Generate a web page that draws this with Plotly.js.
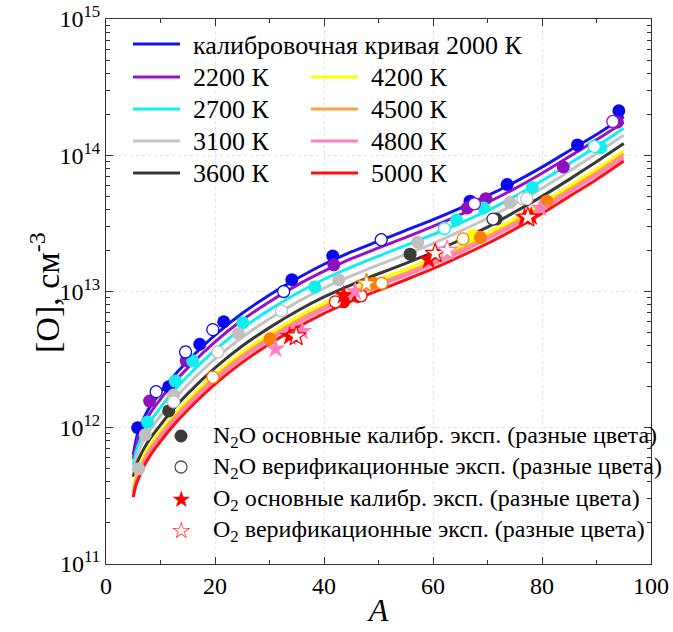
<!DOCTYPE html>
<html>
<head>
<meta charset="utf-8">
<script src="https://cdn.plot.ly/plotly-3.0.1.min.js"></script>
<style>html,body{margin:0;padding:0;background:#fff}#chart{width:673px;height:632px}</style>
</head>
<body>
<div id="chart"></div>
<script>
// ---- Calibration curves: A values and [O] (cm^-3) ----
const curveA = [5, 5.5, 6, 7, 8, 10, 12, 15, 20, 25, 30, 35, 40, 45, 50, 55, 60, 65, 70, 75, 80, 85, 90, 95];
const temps = [2000, 2200, 2700, 3100, 3600, 4200, 4500, 4800, 5000];
const curveLabels = ['калибровочная кривая 2000 К', '2200 К', '2700 К', '3100 К', '3600 К', '4200 К', '4500 К', '4800 К', '5000 К'];
const curve2000 = [6.31e11, 8.13e11, 9.55e11, 1.19e12, 1.41e12, 1.82e12, 2.29e12, 3.09e12, 4.79e12, 6.92e12, 9.44e12, 1.24e13, 1.585e13, 1.95e13, 2.34e13, 2.81e13, 3.37e13, 4.10e13, 5.05e13, 6.35e13, 8.18e13, 1.08e14, 1.42e14, 1.92e14];
const curve2200 = [5.89e11, 7.41e11, 8.71e11, 1.07e12, 1.26e12, 1.62e12, 2.04e12, 2.75e12, 4.27e12, 6.17e12, 8.41e12, 1.11e13, 1.41e13, 1.74e13, 2.09e13, 2.50e13, 3.01e13, 3.66e13, 4.50e13, 5.69e13, 7.38e13, 9.77e13, 1.30e14, 1.75e14];
const curve2700 = [5.25e11, 6.61e11, 7.59e11, 9.33e11, 1.10e12, 1.41e12, 1.78e12, 2.40e12, 3.72e12, 5.37e12, 7.33e12, 9.66e12, 1.23e13, 1.51e13, 1.82e13, 2.18e13, 2.62e13, 3.18e13, 3.92e13, 4.99e13, 6.50e13, 8.67e13, 1.16e14, 1.58e14];
const curve3100 = [4.79e11, 5.89e11, 6.76e11, 8.22e11, 9.55e11, 1.22e12, 1.53e12, 2.07e12, 3.20e12, 4.62e12, 6.31e12, 8.32e12, 1.06e13, 1.30e13, 1.57e13, 1.87e13, 2.25e13, 2.77e13, 3.45e13, 4.40e13, 5.73e13, 7.64e13, 1.03e14, 1.41e14];
const curve3600 = [4.37e11, 5.25e11, 5.89e11, 7.08e11, 8.22e11, 1.05e12, 1.32e12, 1.78e12, 2.75e12, 3.98e12, 5.43e12, 7.16e12, 9.12e12, 1.12e13, 1.35e13, 1.61e13, 1.94e13, 2.39e13, 2.97e13, 3.83e13, 4.99e13, 6.65e13, 8.97e13, 1.22e14];
const curve4200 = [3.63e11, 4.47e11, 5.13e11, 6.31e11, 7.41e11, 9.44e11, 1.19e12, 1.60e12, 2.48e12, 3.59e12, 4.90e12, 6.46e12, 8.22e12, 1.01e13, 1.22e13, 1.46e13, 1.75e13, 2.15e13, 2.68e13, 3.41e13, 4.45e13, 5.93e13, 7.91e13, 1.08e14];
const curve4500 = [3.39e11, 4.17e11, 4.79e11, 5.89e11, 6.92e11, 8.91e11, 1.12e12, 1.51e12, 2.34e12, 3.39e12, 4.62e12, 6.10e12, 7.76e12, 9.55e12, 1.15e13, 1.37e13, 1.65e13, 2.03e13, 2.53e13, 3.22e13, 4.20e13, 5.60e13, 7.46e13, 1.02e14];
const curve4800 = [3.24e11, 3.98e11, 4.57e11, 5.62e11, 6.61e11, 8.51e11, 1.07e12, 1.45e12, 2.24e12, 3.24e12, 4.42e12, 5.82e12, 7.41e12, 9.12e12, 1.10e13, 1.31e13, 1.58e13, 1.94e13, 2.42e13, 3.08e13, 4.01e13, 5.35e13, 7.13e13, 9.62e13];
const curve5000 = [3.09e11, 3.80e11, 4.27e11, 5.25e11, 6.17e11, 7.94e11, 1.0e12, 1.35e12, 2.09e12, 3.02e12, 4.12e12, 5.43e12, 6.92e12, 8.51e12, 1.02e13, 1.22e13, 1.47e13, 1.81e13, 2.25e13, 2.87e13, 3.74e13, 4.99e13, 6.65e13, 9.08e13];
const curves = [curve2000, curve2200, curve2700, curve3100, curve3600, curve4200, curve4500, curve4800, curve5000];

// ---- Experimental points (A, [O], temperature of the matching curve) ----
const n2oMainA = [5.8, 11.5, 17.2, 21.6, 34.1, 41.6, 66.8, 73.6, 86.5, 94.1,
                  8.0, 14.7, 41.8, 66.3, 69.7, 83.9, 93.8,
                  7.6, 12.7, 15.9, 25.1, 38.3, 64.3, 69.3, 78.2, 90.8,
                  6.0, 7.2, 12.4, 24.3, 42.7, 57.2, 74.1,
                  11.5, 55.8, 71.6,
                  67.3,
                  30.1, 49.1, 68.7, 80.9,
                  43.6, 46.2];
const n2oMainO = [1.0e12, 2.0e12, 4.1e12, 6.0e12, 1.22e13, 1.82e13, 4.6e13, 6.1e13, 1.19e14, 2.12e14,
                  1.57e12, 3.1e12, 1.57e13, 4.1e13, 4.8e13, 8.2e13, 1.75e14,
                  1.1e12, 2.2e12, 3.1e12, 5.9e12, 1.08e13, 3.35e13, 4.1e13, 5.8e13, 1.14e14,
                  5.0e11, 8.9e11, 1.74e12, 4.9e12, 1.22e13, 2.3e13, 4.5e13,
                  1.33e12, 1.88e13, 3.4e13,
                  2.6e13,
                  4.5e12, 1.15e13, 2.5e13, 4.6e13,
                  8.4e12, 9.2e12];
const n2oMainT = [2000, 2000, 2000, 2000, 2000, 2000, 2000, 2000, 2000, 2000,
                  2200, 2200, 2200, 2200, 2200, 2200, 2200,
                  2700, 2700, 2700, 2700, 2700, 2700, 2700, 2700, 2700,
                  3100, 3100, 3100, 3100, 3100, 3100, 3100,
                  3600, 3600, 3600,
                  4200,
                  4500, 4500, 4500, 4500,
                  5000, 5000];

const n2oVerA = [9.2, 14.6, 19.6, 32.6, 50.5, 93.0, 67.6, 89.6, 62.1, 12.4, 20.5, 32.2, 76.5, 77.2, 71.0, 19.6, 50.6, 65.5, 42.1, 46.8];
const n2oVerO = [1.84e12, 3.6e12, 5.25e12, 1.0e13, 2.4e13, 1.77e14, 4.4e13, 1.16e14, 2.9e13, 1.55e12, 3.6e12, 7.2e12, 4.8e13, 4.8e13, 3.4e13, 2.35e12, 1.15e13, 2.43e13, 8.4e12, 9.3e12];
const n2oVerT = [2000, 2000, 2000, 2000, 2000, 2200, 2200, 2700, 2700, 3100, 3100, 3100, 3100, 3100, 3600, 4500, 4500, 4500, 5000, 5000];

const o2MainA = [33.7, 43.6, 59.2, 76.8, 78.0, 31.1, 36.0, 45.7, 79.7];
const o2MainO = [4.7e12, 9.4e12, 1.7e13, 3.5e13, 3.55e13, 3.8e12, 5.1e12, 1.0e13, 4.1e13];
const o2MainT = [5000, 5000, 5000, 5000, 5000, 4800, 4800, 4800, 4800];

const o2VerA = [34.9, 60.4, 77.4, 62.6, 47.8];
const o2VerO = [4.7e12, 1.9e13, 3.5e13, 2.0e13, 1.14e13];
const o2VerT = [5000, 5000, 5000, 4800, 4500];

const markerLabels = ['N<sub>2</sub>O основные калибр. эксп. (разные цвета)',
                      'N<sub>2</sub>O верификационные эксп. (разные цвета)',
                      'O<sub>2</sub> основные калибр. эксп. (разные цвета)',
                      'O<sub>2</sub> верификационные эксп. (разные цвета)'];

const yTickVals = [1e11, 1e12, 1e13, 1e14, 1e15];
const yTickText = ['10<sup>11</sup>', '10<sup>12</sup>', '10<sup>13</sup>', '10<sup>14</sup>', '10<sup>15</sup>'];
const yMinorVals = [2e11, 3e11, 4e11, 5e11, 6e11, 7e11, 8e11, 9e11,
                    2e12, 3e12, 4e12, 5e12, 6e12, 7e12, 8e12, 9e12,
                    2e13, 3e13, 4e13, 5e13, 6e13, 7e13, 8e13, 9e13,
                    2e14, 3e14, 4e14, 5e14, 6e14, 7e14, 8e14, 9e14];
const yTitle = '[O], см<sup>-3</sup>';

// ---- styles ----
const lineColor = {2000: '#1414f0', 2200: '#9a10c8', 2700: '#10f0f0', 3100: '#c4c4c4', 3600: '#383838',
                   4200: '#ffff00', 4500: '#ffa04a', 4800: '#ff80c0', 5000: '#ff1010'};
const dotColor = {2000: '#0808f0', 2200: '#9010c0', 2700: '#10eef0', 3100: '#c0c0c0', 3600: '#3a3a3a',
                  4200: '#ffff10', 4500: '#ff8000', 4800: '#ff80c0', 5000: '#ff0000'};
const SERIF = '"Liberation Serif", "Times New Roman", serif';

// plot frame in pixels (for placing the hand-made legends)
const M = {l: 106, r: 22, t: 19, b: 68};
const PW = 673 - M.l - M.r, PH = 632 - M.t - M.b;
const px = X => (X - M.l) / PW;
const py = Y => (632 - M.b - Y) / PH;

const traces = [];
curves.forEach((c, i) => {
  traces.push({
    x: curveA, y: c, type: 'scatter', mode: 'lines', name: curveLabels[i], showlegend: false,
    line: {color: lineColor[temps[i]], width: 3, shape: 'spline', smoothing: 0.8}, hoverinfo: 'skip'
  });
});
traces.push({x: n2oMainA, y: n2oMainO, type: 'scatter', mode: 'markers', showlegend: false, name: markerLabels[0],
  marker: {symbol: 'circle', size: 13, color: n2oMainT.map(t => dotColor[t]), line: {width: 0}}});
traces.push({x: n2oVerA, y: n2oVerO, type: 'scatter', mode: 'markers', showlegend: false, name: markerLabels[1],
  marker: {symbol: 'circle', size: 12, color: '#ffffff', line: {width: 1.3, color: n2oVerT.map(t => dotColor[t])}}});
traces.push({x: o2MainA, y: o2MainO, type: 'scatter', mode: 'markers', showlegend: false, name: markerLabels[2],
  marker: {symbol: 'star', size: 15, color: o2MainT.map(t => dotColor[t]), line: {width: 0}}});
traces.push({x: o2VerA, y: o2VerO, type: 'scatter', mode: 'markers', showlegend: false, name: markerLabels[3],
  marker: {symbol: 'star', size: 15, color: '#ffffff', line: {width: 1.3, color: o2VerT.map(t => dotColor[t])}}});

// ---- legends drawn as shapes + annotations ----
const shapes = [], annotations = [];
const lineLeg = [[133, 44], [133, 77], [133, 109], [133, 141], [133, 173],
                 [311, 77], [311, 109], [311, 141], [311, 173]];
lineLeg.forEach((p, i) => {
  shapes.push({type: 'line', xref: 'paper', yref: 'paper', x0: px(p[0]), x1: px(p[0] + 47), y0: py(p[1]), y1: py(p[1]),
    line: {color: lineColor[temps[i]], width: 3}});
  annotations.push({xref: 'paper', yref: 'paper', x: px(p[0] + 58), y: py(p[1] + 1), xanchor: 'left', yanchor: 'middle',
    text: curveLabels[i], showarrow: false, font: {family: SERIF, size: 26, color: '#000'}});
});
const markRows = [436, 467, 499, 530];
const mx = 181;
shapes.push({type: 'circle', xref: 'paper', yref: 'paper', x0: px(mx - 6.5), x1: px(mx + 6.5), y0: py(markRows[0] + 6.5), y1: py(markRows[0] - 6.5),
  fillcolor: '#3a3a3a', line: {width: 0}});
shapes.push({type: 'circle', xref: 'paper', yref: 'paper', x0: px(mx - 6), x1: px(mx + 6), y0: py(markRows[1] + 6), y1: py(markRows[1] - 6),
  fillcolor: '#ffffff', line: {width: 1.3, color: '#555555'}});
annotations.push({xref: 'paper', yref: 'paper', x: px(mx), y: py(markRows[2]), xanchor: 'center', yanchor: 'middle',
  text: '★', showarrow: false, font: {family: 'DejaVu Sans', size: 23, color: '#ff0000'}});
annotations.push({xref: 'paper', yref: 'paper', x: px(mx), y: py(markRows[3]), xanchor: 'center', yanchor: 'middle',
  text: '☆', showarrow: false, font: {family: 'DejaVu Sans', size: 23, color: '#ff0000'}});
markRows.forEach((r, i) => {
  annotations.push({xref: 'paper', yref: 'paper', x: px(211), y: py(r + 1), xanchor: 'left', yanchor: 'middle',
    text: markerLabels[i], showarrow: false, font: {family: SERIF, size: 24, color: '#000'}});
});
// y-axis title
annotations.push({xref: 'paper', yref: 'paper', x: px(45), y: py(293), xanchor: 'center', yanchor: 'middle',
  textangle: -90, text: yTitle, showarrow: false, font: {family: SERIF, size: 34, color: '#000'}});

const layout = {
  width: 673, height: 632,
  margin: M,
  paper_bgcolor: '#fff', plot_bgcolor: '#fff',
  font: {family: SERIF, color: '#000'},
  showlegend: false,
  shapes: shapes, annotations: annotations,
  xaxis: {
    range: [0, 100], dtick: 20, tick0: 0, ticks: 'inside', ticklen: 7, tickwidth: 1, tickcolor: '#333',
    mirror: 'ticks', showline: true, linecolor: '#333', linewidth: 1,
    showgrid: true, gridcolor: '#e4e4e4', griddash: 'dot', zeroline: false,
    minor: {tickmode: 'linear', tick0: 0, dtick: 10, ticks: 'inside', ticklen: 4, tickcolor: '#333', showgrid: false},
    tickfont: {family: SERIF, size: 24, color: '#000'},
    title: {text: '<i>A</i>', font: {family: SERIF, size: 32, color: '#000'}, standoff: 0}
  },
  yaxis: {
    type: 'log', range: [11, 15], tickmode: 'array', tickvals: yTickVals, ticktext: yTickText,
    ticks: 'inside', ticklen: 7, tickwidth: 1, tickcolor: '#333',
    mirror: 'ticks', showline: true, linecolor: '#333', linewidth: 1,
    showgrid: true, gridcolor: '#e4e4e4', griddash: 'dot', zeroline: false,
    minor: {tickmode: 'array', tickvals: yMinorVals, ticks: 'inside', ticklen: 4, tickcolor: '#333', showgrid: false},
    tickfont: {family: SERIF, size: 24, color: '#000'},
    title: {text: ''}
  }
};

Plotly.newPlot('chart', traces, layout, {staticPlot: true, displayModeBar: false});
</script>
</body>
</html>
